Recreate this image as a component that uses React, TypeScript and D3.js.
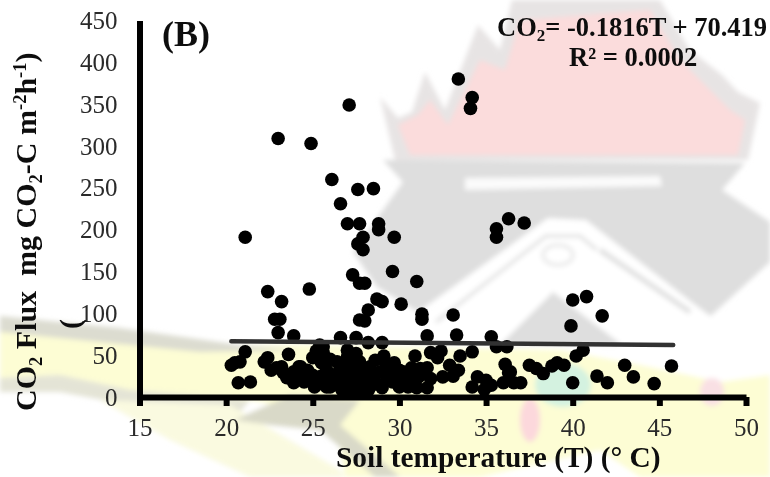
import React, { useEffect, useRef } from 'react'
import * as d3 from 'd3'

const width = 770
const height = 477

const temperature = [
  33.4, 34.2, 34.1, 27.1, 23.0, 24.9, 26.1, 27.6, 28.5, 26.6, 27.0, 27.7, 28.8, 28.8, 29.7, 27.9, 21.1,
  22.4, 24.8, 23.2, 22.8, 23.1, 23.0, 23.9, 21.1, 20.8, 20.5, 20.3, 22.4, 22.2, 22.6, 23.6, 20.7, 21.4,
  23.3, 23.5, 23.9, 24.3, 25.0, 24.7, 24.5, 25.1, 25.4, 25.6, 25.5, 25.8, 25.8, 25.0, 23.9, 22.9,
  27.6, 27.9, 35.6, 35.6, 36.3, 37.2, 27.3, 27.7, 28.0, 29.6, 31.0, 28.7, 29.0, 30.1, 28.2, 27.7, 28.0,
  31.3, 31.3, 33.1, 31.6, 33.3, 35.3, 26.6, 27.5, 28.2, 29.0, 27.0, 35.6, 36.2, 32.4, 31.8, 30.9, 33.5,
  34.2, 29.1, 32.2, 31.6, 32.9, 33.4, 33.1, 32.5, 36.1, 36.4, 34.5, 34.2, 35.3, 36.0, 36.6,
  26.4, 27.7, 28.3, 29.2, 29.7, 30.0, 30.7, 31.1, 30.3, 29.3, 29.6, 26.0, 27.0, 27.6, 28.3, 29.0, 31.0, 31.6,
  27.3, 27.9, 27.0, 25.8, 25.6, 30.0, 30.5, 40.0, 40.8, 41.7, 39.9, 40.6, 40.2, 39.5, 39.1, 38.8, 38.3, 37.9,
  37.5, 37.0, 36.3, 40.0, 41.4, 42.0, 43.0, 43.5, 44.7, 45.7,
  27.2, 27.5, 26.8, 27.2, 27.9, 28.5, 28.6, 26.5, 26.9, 27.4, 28.0, 25.3, 26.2,
  26.7, 27.1, 27.8, 28.2, 26.4, 27.4, 27.7, 28.1, 27.0, 25.2, 25.3, 26.0, 28.9, 24.4, 25.5, 24.0, 23.2,
  30.4, 30.9, 31.4, 26.9, 27.3, 28.4, 25.8, 26.3, 29.9, 30.6,
  24.2, 24.8, 26.6, 28.7, 29.4, 31.2, 30.2, 31.8, 34.9, 35.0,
]
const flux = [
  380, 358, 345, 349, 309, 303, 260, 248, 249, 231, 207, 207, 207, 200, 191, 191, 191,
  126, 129, 114, 93, 93, 77, 73, 54, 42, 41, 38, 47, 42, 32, 51, 17, 18,
  29, 23, 17, 36, 47, 32, 18, 12, 62, 53, 41, 29, 12, 26, 30, 35,
  183, 176, 191, 201, 213, 208, 146, 136, 136, 150, 138, 117, 114, 111, 104, 92, 91,
  99, 93, 98, 73, 74, 72, 71, 71, 65, 65, 56, 60, 60, 55, 53, 49, 49,
  54, 49, 47, 35, 38, 32, 25, 24, 39, 30, 24, 12, 14, 17, 17,
  42, 42, 36, 41, 41, 32, 35, 24, 24, 24, 18, 12, 12, 12, 12, 11, 11, 11,
  24, 29, 32, 32, 60, 12, 12, 116, 120, 97, 85, 56, 49, 38, 41, 37, 28, 34,
  38, 17, 29, 17, 25, 17, 38, 24, 16, 37,
  45, 52, 20, 16, 20, 22, 44, 30, 38, 8, 8, 16, 20,
  8, 8, 8, 8, 17, 28, 35, 28, 48, 55, 50, 45, 30, 26, 25, 24, 36,
  22, 18, 28, 24, 36, 16, 20, 25, 20, 26,
  36, 20, 12, 16, 30, 34, 30, 22, 9, 20,
]
const xTicks = [15, 20, 25, 30, 35, 40, 45, 50]
const yTicks = [0, 50, 100, 150, 200, 250, 300, 350, 400, 450]
const slope = -0.1816
const intercept = 70.419
const fitRange = [20.3, 45.8]

const serif = '"Liberation Serif", "Times New Roman", serif'

// faded logo behind the plot, only decoration
function Watermark() {
  return (
    <g filter="url(#soft)">
      <path fill="#e7e4e4" d="M380,97 L398,118 L412,112 L425,72 L445,110 L478,25 L500,50 L512,0 L660,0 L690,50 L722,75 L738,92 L760,103 L748,160 L395,160 Z" />
      <path fill="#fbdcdc" d="M398,125 L418,115 L430,100 L448,125 L480,60 L505,70 L520,20 L650,10 L680,60 L715,95 L730,110 L745,120 L738,155 L410,155 Z" />
      <path fill="#dedede" d="M383,160 L745,163 L722,190 L770,222 L770,262 L704,322 L585,220 L548,218 L418,312 L377,287 L353,252 L403,182 Z" />
      <path fill="#fbfbfb" d="M465,178 L660,176 L662,186 L465,190 Z" />
      <path fill="#ffffff" d="M404,345 L545,220 L586,220 L694,304 L770,360 L770,385 L715,380 L620,345 L500,345 Z" />
      <path fill="none" stroke="#dedede" strokeWidth="3" d="M436,322 L546,236 L580,236 L597,250" />
      <path fill="none" stroke="#dedede" strokeWidth="5" d="M600,250 L690,312" />
      <ellipse cx="558" cy="255" rx="15" ry="10" fill="none" stroke="#e5e5e5" strokeWidth="3" />
      <path fill="#dedede" d="M500,345 L553,292 L622,345 Z" />
      <path fill="#fdfdd4" d="M0,322 L130,345 L300,345 L560,350 L640,365 L720,382 L770,375 L770,477 L640,477 L600,450 L480,477 L345,477 L335,415 L250,400 L130,390 L60,375 L0,378 Z" />
      <path fill="#dcdcd0" d="M0,316 L120,328 L240,345 L300,350 L200,352 L100,342 L0,332 Z" />
      <path fill="#e4e4d6" d="M0,378 L60,375 L130,390 L250,400 L240,412 L130,405 L60,392 L0,392 Z" />
      <path fill="#fafae0" d="M100,400 L230,405 L340,470 L345,477 L250,477 L170,440 Z" />
      <path fill="#d9d9c8" d="M235,420 L290,395 L360,400 L340,425 L400,477 L375,477 L320,430 L270,425 Z" />
      <ellipse cx="563" cy="385" rx="28" ry="22" fill="#d4f2e0" />
      <ellipse cx="530" cy="420" rx="10" ry="22" fill="#fcd8dc" />
      <ellipse cx="712" cy="392" rx="12" ry="14" fill="#f9e0e4" />
    </g>
  )
}

export default function App() {
  const axisRef = useRef<SVGGElement>(null)
  const x = d3.scaleLinear().domain([15, 50]).range([139.5, 746])
  const y = d3.scaleLinear().domain([0, 450]).range([397, 20.5])
  const line = d3.line<number>().x((d) => x(d)).y((d) => y(slope * d + intercept))

  useEffect(() => {
    const root = d3.select(axisRef.current)
    root.selectAll('*').remove()

    const xAxis = d3.axisBottom(x).tickValues(xTicks).tickSize(9).tickSizeOuter(0).tickPadding(12)
    const gx = root.append('g').attr('transform', `translate(0,${y(0)})`).call(xAxis)
    gx.select('.domain').attr('stroke', '#000').attr('stroke-width', 6)
    gx.selectAll('.tick line').attr('stroke', '#000').attr('stroke-width', 6)

    const yAxis = d3.axisLeft(y).tickValues(yTicks).tickSize(0).tickSizeOuter(0).tickPadding(22)
    const gy = root.append('g').attr('transform', `translate(${x(15)},0)`).call(yAxis)
    gy.select('.domain').attr('stroke', '#000').attr('stroke-width', 6)

    root.selectAll('text')
      .attr('font-family', serif)
      .attr('font-size', 25)
      .attr('fill', '#2a2a2a')
  }, [])

  return (
    <svg width={width} height={height} style={{ position: 'absolute', left: 0, top: 0, background: '#fff' }}>
      <defs>
        <filter id="soft"><feGaussianBlur stdDeviation="2.5" /></filter>
        <filter id="ink" x="-5%" y="-5%" width="110%" height="110%"><feGaussianBlur stdDeviation="0.45" /></filter>
      </defs>
      <Watermark />
      <g filter="url(#ink)">
        <g>
          {temperature.map((t, i) => (
            <circle key={i} cx={x(t)} cy={y(flux[i])} r={6.8} fill="#000" />
          ))}
        </g>
        <path d={line(fitRange) as string} fill="none" stroke="#333" strokeWidth={4.5} strokeLinecap="round" />
        <g ref={axisRef} />
        <g fontFamily={serif} fontWeight="bold" fill="#111">
          <text x={162} y={46} fontSize={36}>(B)</text>
          <text x={497} y={36} fontSize={26.5}>CO<tspan fontSize={17} dy={5}>2</tspan><tspan dy={-5}>= -0.1816T + 70.419</tspan></text>
          <text x={569} y={66} fontSize={26.5}>R² = 0.0002</text>
          <text x={336} y={467} fontSize={29.4}>Soil temperature (T) (° C)</text>
          <text transform="translate(36,411) rotate(-90)" fontSize={30} xmlSpace="preserve">
            CO<tspan fontSize={18.5} dy={6}>2</tspan><tspan dy={-6}> Flux  mg CO</tspan><tspan fontSize={18.5} dy={6}>2</tspan><tspan dy={-6}>-C m</tspan><tspan fontSize={18.5} dy={-10}>-2</tspan><tspan dy={10}>h</tspan><tspan fontSize={18.5} dy={-10}>-1</tspan><tspan dy={10}>)</tspan>
          </text>
          <text transform="translate(80,329) rotate(-90)" fontSize={30}>(</text>
        </g>
      </g>
    </svg>
  )
}
